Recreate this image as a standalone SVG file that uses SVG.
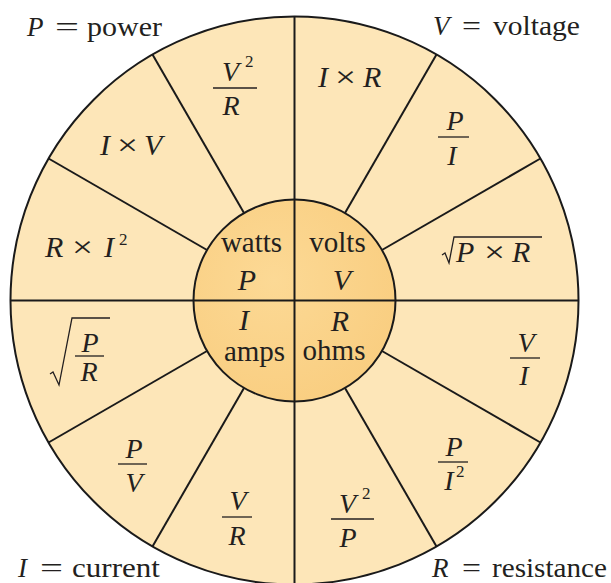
<svg xmlns="http://www.w3.org/2000/svg" width="611" height="583" viewBox="0 0 611 583" font-family="'Liberation Serif', 'Times New Roman', serif">
<defs>
<radialGradient id="core" cx="0.4" cy="0.4" r="0.7">
<stop offset="0" stop-color="#FCD995"/>
<stop offset="1" stop-color="#F9CD7F"/>
</radialGradient>
</defs>
<style>
text{font-family:'Liberation Serif','Times New Roman',serif}
.t{fill:#231f20;font-size:29px}
.m{font-style:italic;font-size:30px}
.f{font-size:28px}
.c{font-size:27px}
.s{font-size:17px;font-style:normal}
.ln{stroke:#1a1a1a;stroke-width:2;fill:none}
.bar{stroke:#231f20;stroke-width:1.3;fill:none}
.rad{stroke:#231f20;stroke-width:1.3;fill:none;stroke-linejoin:miter}
</style>
<rect width="611" height="583" fill="#ffffff"/>
<g id="wheel">
<circle cx="294.5" cy="300.5" r="284" fill="#FDE6B8" stroke="#1a1a1a" stroke-width="2"/>
<circle cx="294.5" cy="300.5" r="101" fill="url(#core)" stroke="#1a1a1a" stroke-width="2"/>
</g>
<g id="connectors">
<line class="ln" x1="294.5" y1="16.5" x2="294.5" y2="584.5"/>
<line class="ln" x1="10.5" y1="300.5" x2="578.5" y2="300.5"/>
<line class="ln" x1="381.97" y1="250" x2="540.45" y2="158.5"/>
<line class="ln" x1="345" y1="213.03" x2="436.5" y2="54.55"/>
<line class="ln" x1="244" y1="213.03" x2="152.5" y2="54.55"/>
<line class="ln" x1="207.03" y1="250" x2="48.55" y2="158.5"/>
<line class="ln" x1="207.03" y1="351" x2="48.55" y2="442.5"/>
<line class="ln" x1="244" y1="387.97" x2="152.5" y2="546.45"/>
<line class="ln" x1="345" y1="387.97" x2="436.5" y2="546.45"/>
<line class="ln" x1="381.97" y1="351" x2="540.45" y2="442.5"/>
</g>
<g id="core-watts">
<text class="t" x="251.5" y="252" text-anchor="middle">watts</text>
<text class="t m" x="247" y="290" text-anchor="middle">P</text>
</g>
<g id="core-volts">
<text class="t" x="337.5" y="252" text-anchor="middle">volts</text>
<text class="t m" x="342" y="290" text-anchor="middle">V</text>
</g>
<g id="core-amps">
<text class="t m" x="244" y="330" text-anchor="middle">I</text>
<text class="t" x="254.5" y="361" text-anchor="middle">amps</text>
</g>
<g id="core-ohms">
<text class="t m" x="340" y="331" text-anchor="middle">R</text>
<text class="t" x="334" y="360" text-anchor="middle">ohms</text>
</g>
<g id="p-v2r">
<text class="t m f" x="222" y="81">V</text>
<text class="t s" x="245" y="67">2</text>
<line class="bar" x1="213" y1="88" x2="257" y2="88"/>
<text class="t m f" x="231" y="115" text-anchor="middle">R</text>
</g>
<g id="p-iv">
<text class="t m" x="100" y="155">I</text>
<text class="t" x="117" y="155" textLength="21" lengthAdjust="spacingAndGlyphs">×</text>
<text class="t m" x="144" y="155">V</text>
</g>
<g id="p-ri2">
<text class="t m" x="45" y="257">R</text>
<text class="t" x="72" y="257" textLength="21" lengthAdjust="spacingAndGlyphs">×</text>
<text class="t m" x="104" y="257">I</text>
<text class="t s" x="119" y="245">2</text>
</g>
<g id="v-ir">
<text class="t m" x="318" y="87">I</text>
<text class="t" x="335" y="87" textLength="21" lengthAdjust="spacingAndGlyphs">×</text>
<text class="t m" x="363" y="87">R</text>
</g>
<g id="v-pi">
<text class="t m f" x="455" y="130" text-anchor="middle">P</text>
<line class="bar" x1="438" y1="137" x2="469" y2="137"/>
<text class="t m f" x="452" y="165" text-anchor="middle">I</text>
</g>
<g id="v-sqrt-pr">
<path class="rad" d="M442,255 L445,253 L449,263 L454,237 L542,237"/>
<text class="t m" x="456" y="262">P</text>
<text class="t" x="484" y="262" textLength="21" lengthAdjust="spacingAndGlyphs">×</text>
<text class="t m" x="512" y="262">R</text>
</g>
<g id="i-sqrt-pr">
<path class="rad" d="M50,374 L53,372 L59,385 L72,318 L110,318"/>
<text class="t m f" x="90" y="352" text-anchor="middle">P</text>
<line class="bar" x1="75" y1="356" x2="104" y2="356"/>
<text class="t m f" x="89" y="381" text-anchor="middle">R</text>
</g>
<g id="i-pv">
<text class="t m f" x="134" y="458" text-anchor="middle">P</text>
<line class="bar" x1="118" y1="464" x2="147" y2="464"/>
<text class="t m f" x="134" y="492" text-anchor="middle">V</text>
</g>
<g id="i-vr">
<text class="t m f" x="238" y="510" text-anchor="middle">V</text>
<line class="bar" x1="222" y1="517" x2="252" y2="517"/>
<text class="t m f" x="237" y="545" text-anchor="middle">R</text>
</g>
<g id="r-vi">
<text class="t m f" x="526" y="352" text-anchor="middle">V</text>
<line class="bar" x1="510" y1="358" x2="540" y2="358"/>
<text class="t m f" x="524" y="385" text-anchor="middle">I</text>
</g>
<g id="r-pi2">
<text class="t m f" x="454" y="456" text-anchor="middle">P</text>
<line class="bar" x1="438" y1="462" x2="468" y2="462"/>
<text class="t m f" x="449" y="490" text-anchor="middle">I</text>
<text class="t s" x="456" y="477">2</text>
</g>
<g id="r-v2p">
<text class="t m f" x="339" y="513">V</text>
<text class="t s" x="362" y="499">2</text>
<line class="bar" x1="331" y1="519" x2="374" y2="519"/>
<text class="t m f" x="348" y="547" text-anchor="middle">P</text>
</g>
<g id="legend-power">
<text class="t m c" x="27" y="36">P</text>
<text class="t c" x="55" y="36" textLength="24" lengthAdjust="spacingAndGlyphs">=</text>
<text class="t c" x="87" y="36" textLength="75" lengthAdjust="spacingAndGlyphs">power</text>
</g>
<g id="legend-voltage">
<text class="t m c" x="433" y="35">V</text>
<text class="t c" x="462" y="35" textLength="19" lengthAdjust="spacingAndGlyphs">=</text>
<text class="t c" x="493" y="35" textLength="87" lengthAdjust="spacingAndGlyphs">voltage</text>
</g>
<g id="legend-current">
<text class="t m c" x="18" y="577">I</text>
<text class="t c" x="40" y="577" textLength="23" lengthAdjust="spacingAndGlyphs">=</text>
<text class="t c" x="72" y="577" textLength="88" lengthAdjust="spacingAndGlyphs">current</text>
</g>
<g id="legend-resistance">
<text class="t m c" x="432" y="577">R</text>
<text class="t c" x="462" y="577" textLength="19" lengthAdjust="spacingAndGlyphs">=</text>
<text class="t c" x="492" y="577" textLength="115" lengthAdjust="spacingAndGlyphs">resistance</text>
</g>
</svg>
